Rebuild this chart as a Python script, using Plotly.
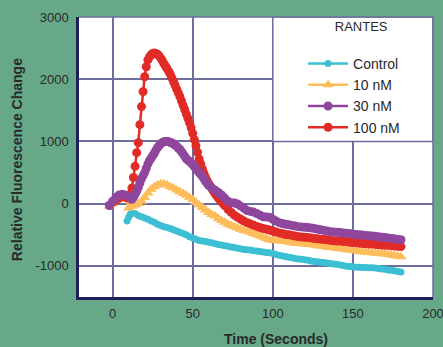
import plotly.graph_objects as go

# ---------------- data ----------------
control_t = [9, 10, 11, 12] + list(range(14, 181, 2))
control_v = [-280, -220, -170, -150,
             -160, -190, -210, -230, -250, -280, -300, -330, -350, -370,
             -385, -400, -420, -440, -460, -480, -500, -530, -550, -570,
             -590, -600, -610, -620, -630, -645, -655, -665, -675, -685,
             -695, -705, -715, -725, -735, -740, -745, -755, -760, -770,
             -775, -785, -790, -800, -815, -830, -840, -850, -860, -870,
             -880, -890, -895, -900, -910, -920, -930, -935, -940, -945,
             -955, -960, -970, -975, -985, -995, -1005, -1010, -1015, -1020,
             -1020, -1025, -1025, -1030, -1030, -1035, -1040, -1050, -1055, -1065,
             -1070, -1080, -1090, -1100]

nm10_t = list(range(-2, 181, 2))
nm10_v = [-40, 0, 50, 95, 110, 115, -70, -40, -20, 0,
          40, 100, 170, 230, 270, 300, 320, 320, 300, 270,
          250, 220, 190, 165, 135, 100, 65, 20, -20, -60,
          -100, -140, -175, -200, -240, -270, -300, -330, -350, -370,
          -390, -410, -430, -445, -460, -480, -500, -520, -540, -560,
          -580, -590, -595, -600, -605, -610, -620, -630, -635, -640,
          -645, -650, -655, -660, -665, -675, -680, -690, -700, -705,
          -710, -720, -725, -730, -740, -745, -750, -760, -770, -775,
          -780, -785, -790, -795, -800, -805, -810, -815, -825, -835,
          -845, -855]

nm30_t = [-2, 0, 2, 4, 6, 8, 10] + list(range(12, 61)) + list(range(62, 181, 2))
nm30_v = [-30, 40, 100, 140, 150, 140, 110,
          70, 100, 150, 200, 260, 330, 400, 450, 500, 570,
          640, 690, 730, 770, 810, 860, 900, 930, 960, 980,
          995, 1000, 1000, 995, 985, 975, 960, 940, 920, 895,
          870, 835, 800, 760, 720, 700, 680, 655, 630, 595,
          560, 530, 500, 470, 440, 400, 360, 325, 290,
          250, 215, 180, 140, 90, 40, 15, 10, -5, -40,
          -75, -110, -125, -135, -160, -185, -210, -215, -220, -250,
          -280, -305, -320, -330, -340, -350, -360, -370, -375, -380,
          -385, -390, -400, -410, -420, -430, -440, -450, -455, -460,
          -465, -470, -475, -480, -490, -495, -500, -505, -510, -515,
          -520, -525, -530, -540, -545, -550, -560, -565, -575, -580]

nm100_t = [-2, 0, 2, 4, 6, 8, 10] + list(range(11, 71)) + list(range(72, 181, 2))
nm100_v = [-30, 20, 60, 90, 110, 100, 90,
           150, 250, 420, 600, 820, 980, 1270, 1560, 1800, 2040, 2200,
           2310, 2360, 2390, 2415, 2420, 2415, 2400, 2375, 2340, 2300,
           2250, 2210, 2170, 2125, 2080, 2020, 1960, 1900, 1840, 1780,
           1720, 1650, 1580, 1510, 1440, 1370, 1300, 1220, 1130, 1030,
           930, 825, 720, 640, 560, 490, 420, 370, 320, 280,
           240, 200, 160, 125, 90, 60, 30, 0, -30,
           -90, -140, -185, -220, -250, -280, -305, -325, -345, -365,
           -385, -400, -410, -425, -440, -455, -470, -480, -495, -500,
           -510, -520, -530, -535, -540, -545, -550, -560, -565, -570,
           -575, -580, -590, -595, -600, -600, -610, -610, -620, -625,
           -630, -635, -640, -645, -650, -650, -655, -660, -665, -670,
           -670, -675, -680, -685, -690]

x_ticks = [0, 50, 100, 150, 200]
y_ticks = [-1000, 0, 1000, 2000, 3000]

# ---------------- style ----------------
BG = "#66a888"
GRID = "#6e6e9e"
AXIS = "#1e1e5a"
FONT = "Liberation Sans, Arial, sans-serif"
TXT = "#2a2a2a"

series = [
    ("Control", control_t, control_v, "#3cbfd3", "circle", 7, 1),
    ("10 nM", nm10_t, nm10_v, "#fdbd5b", "triangle-up", 10, 2),
    ("100 nM", nm100_t, nm100_v, "#e12b26", "circle", 9, 4),
    ("30 nM", nm30_t, nm30_v, "#8f479d", "circle", 9, 3),
]

fig = go.Figure()
for name, t, v, col, sym, size, rank in series:
    fig.add_trace(go.Scatter(
        x=t, y=v, name=name, mode="lines+markers",
        line=dict(color=col, width=2.5),
        marker=dict(color=col, symbol=sym, size=size, line=dict(width=0)),
        legendrank=rank,
    ))

# white legend panel covering the upper-right grid cell
fig.add_shape(type="rect", xref="x", yref="y", x0=100, x1=200, y0=1000, y1=3000,
              fillcolor="white", line=dict(color=GRID, width=1.5), layer="between")
# thin frame on the right and top edges of the plot area
fig.add_shape(type="line", xref="paper", yref="paper", x0=1, x1=1, y0=0, y1=1,
              line=dict(color=GRID, width=1.5), layer="above")
fig.add_shape(type="line", xref="paper", yref="paper", x0=0, x1=1, y0=1, y1=1,
              line=dict(color=GRID, width=1.5), layer="above")

fig.update_layout(
    width=443, height=347,
    margin=dict(l=79, r=10, t=17, b=50, autoexpand=False),
    paper_bgcolor=BG, plot_bgcolor="white",
    font=dict(family=FONT, size=13, color=TXT),
    showlegend=True,
    legend=dict(
        x=0.633, y=1.01, xanchor="left", yanchor="top",
        bgcolor="rgba(0,0,0,0)", borderwidth=0,
        font=dict(family=FONT, size=14, color=TXT),
        title=dict(text="&nbsp;&nbsp;&nbsp;&nbsp;RANTES<br> ", side="top center",
                   font=dict(family=FONT, size=13, color=TXT)),
        traceorder="normal", itemwidth=40,
    ),
    xaxis=dict(
        range=[-21, 200], tickvals=x_ticks, ticktext=[str(v) for v in x_ticks],
        showgrid=True, gridcolor=GRID, gridwidth=1.5, zeroline=False,
        showline=True, linecolor=AXIS, linewidth=2.5, automargin=False,
        ticks="", ticklabelstandoff=3, ticklabeloverflow="allow",
        tickfont=dict(family=FONT, size=13, color=TXT),
    ),
    yaxis=dict(
        range=[-1500, 3000], tickvals=y_ticks, ticktext=[str(v) for v in y_ticks],
        showgrid=True, gridcolor=GRID, gridwidth=1.5, zeroline=False,
        showline=True, linecolor=AXIS, linewidth=2.5, automargin=False,
        ticks="", ticklabelstandoff=5, ticklabeloverflow="allow",
        tickfont=dict(family=FONT, size=13, color=TXT),
    ),
    annotations=[
        dict(text="<b>Time (Seconds)</b>", xref="paper", yref="paper",
             x=0.556, y=-0.15, xanchor="center", yanchor="middle", showarrow=False,
             font=dict(family=FONT, size=14, color=TXT)),
        dict(text="<b>Relative Fluorescence Change</b>", xref="paper", yref="paper",
             x=-0.175, y=0.489, xanchor="center", yanchor="middle", showarrow=False,
             textangle=-90, font=dict(family=FONT, size=14, color=TXT)),
    ],
)

fig.write_html("out.html", config={"displayModeBar": False},
               post_script="document.body.style.margin='0';document.body.style.overflow='hidden';")
